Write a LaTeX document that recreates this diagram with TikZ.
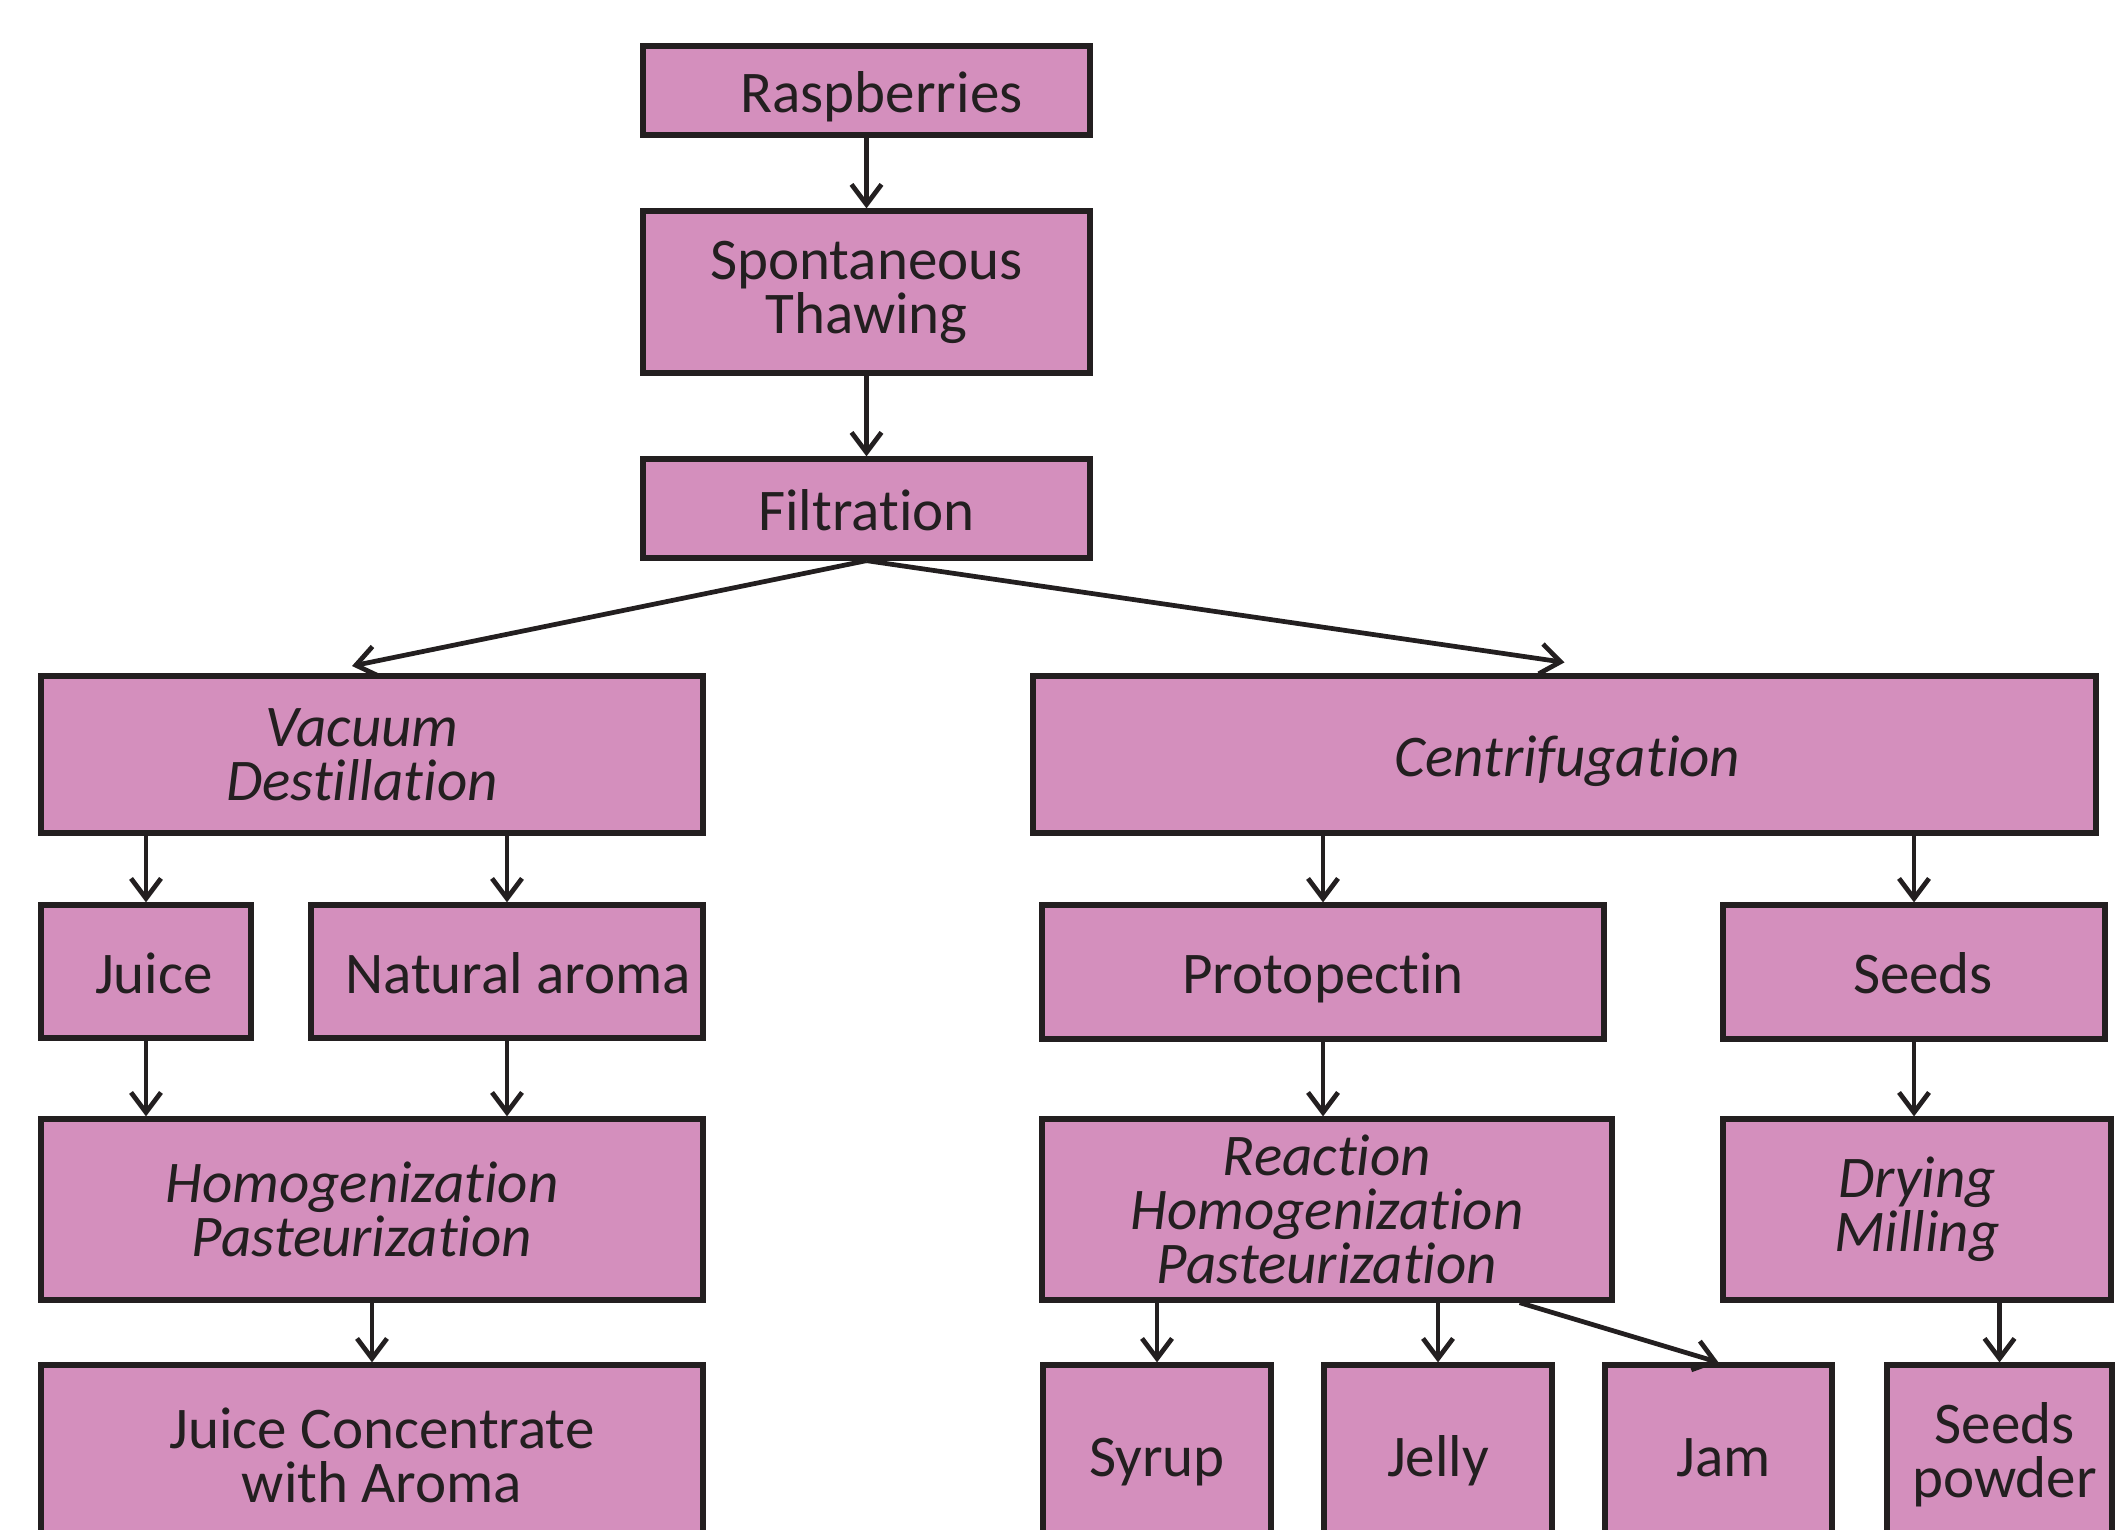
\documentclass[tikz,border=0pt]{standalone}
\usepackage{fontspec}
\setmainfont{Carlito}[Ligatures=NoCommon, Contextuals=NoAlternate]
\usetikzlibrary{arrows.meta}
\definecolor{berry}{HTML}{D48FBD}
\definecolor{ink}{HTML}{231F20}

\begin{document}
\begin{tikzpicture}[
  box/.style={draw=ink, line width=1.5pt, fill=berry, text=ink, align=center,
    inner sep=0pt, font=\fontsize{16.8pt}{15.4pt}\selectfont},
  one/.style={text height=15pt, text depth=2.6pt},
  proc/.style={box, font=\fontsize{16.8pt}{15.4pt}\selectfont\itshape},
  arr/.style={draw=ink, line width=1.35pt, -{Straight Barb[length=2mm, width=3mm]}}
]
  \useasboundingbox (0,0) rectangle (21.17,-15.29);
  \clip (0,0) rectangle (21.17,-15.29);
  % main line
  \node[box, one, minimum width=4.47cm, minimum height=0.89cm] (rasp) at (8.665,-0.905) {\hspace*{0.3cm}Raspberries};
  \node[box, minimum width=4.47cm, minimum height=1.62cm] (thaw) at (8.665,-2.92) {Spontaneous\\Thawing};
  \node[box, one, minimum width=4.47cm, minimum height=0.99cm] (filt) at (8.665,-5.085) {Filtration};
  % the two branches
  \node[proc, minimum width=6.62cm, minimum height=1.57cm] (vac) at (3.72,-7.545) {Vacuum\hspace*{0.2cm}\\Destillation\hspace*{0.2cm}};
  \node[proc, one, minimum width=10.63cm, minimum height=1.57cm] (centr) at (15.645,-7.545) {\hspace*{0.06cm}Centrifugation};
  % juice side
  \node[box, one, minimum width=2.10cm, minimum height=1.33cm] (juice) at (1.46,-9.715) {\hspace*{0.16cm}Juice};
  \node[box, one, minimum width=3.92cm, minimum height=1.33cm] (aroma) at (5.07,-9.715) {\hspace*{0.22cm}Natural aroma};
  \node[proc, minimum width=6.62cm, minimum height=1.81cm] (homog) at (3.72,-12.095) {Homogenization\hspace*{0.2cm}\\Pasteurization\hspace*{0.2cm}};
  \node[box, minimum width=6.62cm, minimum height=1.80cm] (conc) at (3.72,-14.55) {\hspace*{0.2cm}Juice Concentrate\\\hspace*{0.2cm}with Aroma};
  % pectin and seeds side
  \node[box, one, minimum width=5.62cm, minimum height=1.34cm] (proto) at (13.23,-9.72) {Protopectin};
  \node[box, one, minimum width=3.82cm, minimum height=1.34cm] (seeds) at (19.14,-9.72) {\hspace*{0.18cm}Seeds};
  \node[proc, minimum width=5.70cm, minimum height=1.81cm] (react) at (13.27,-12.095) {Reaction\\Homogenization\\Pasteurization};
  \node[proc, minimum width=3.88cm, minimum height=1.81cm] (dry) at (19.17,-12.095) {Drying\\Milling};
  \node[box, one, minimum width=2.28cm, minimum height=1.80cm] (syrup) at (11.57,-14.55) {Syrup};
  \node[box, one, minimum width=2.28cm, minimum height=1.80cm] (jelly) at (14.38,-14.55) {Jelly};
  \node[box, one, minimum width=2.27cm, minimum height=1.80cm] (jam) at (17.185,-14.55) {\hspace*{0.1cm}Jam};
  \node[box, minimum width=2.25cm, minimum height=1.80cm] (powder) at (19.995,-14.55) {\hspace*{0.1cm}Seeds\\\hspace*{0.1cm}powder};
  \coordinate (vacin) at (3.52,-6.66);
  % arrows
  \draw[arr] (rasp) -- (thaw);
  \draw[arr] (thaw) -- (filt);
  \draw[arr] (filt.south) -- (vacin);
  \draw[arr] (filt.south) -- ([yshift=1.1mm]centr.north);
  \draw[arr] (juice.north |- vac.south) -- (juice.north);
  \draw[arr] (aroma.north |- vac.south) -- (aroma.north);
  \draw[arr] (juice.south) -- (juice.south |- homog.north);
  \draw[arr] (aroma.south) -- (aroma.south |- homog.north);
  \draw[arr] (homog) -- (conc);
  \draw[arr] (proto.north |- centr.south) -- (proto.north);
  \draw[arr] (seeds.north |- centr.south) -- (seeds.north);
  \draw[arr] (proto.south) -- (proto.south |- react.north);
  \draw[arr] (seeds.south) -- (seeds.south |- dry.north);
  \draw[arr] (syrup.north |- react.south) -- (syrup.north);
  \draw[arr] (jelly.north |- react.south) -- (jelly.north);
  \draw[arr] ([xshift=-9.5mm]react.south east) -- (jam.north);
  \draw[arr] (powder.north |- dry.south) -- (powder.north);
\end{tikzpicture}
\end{document}
